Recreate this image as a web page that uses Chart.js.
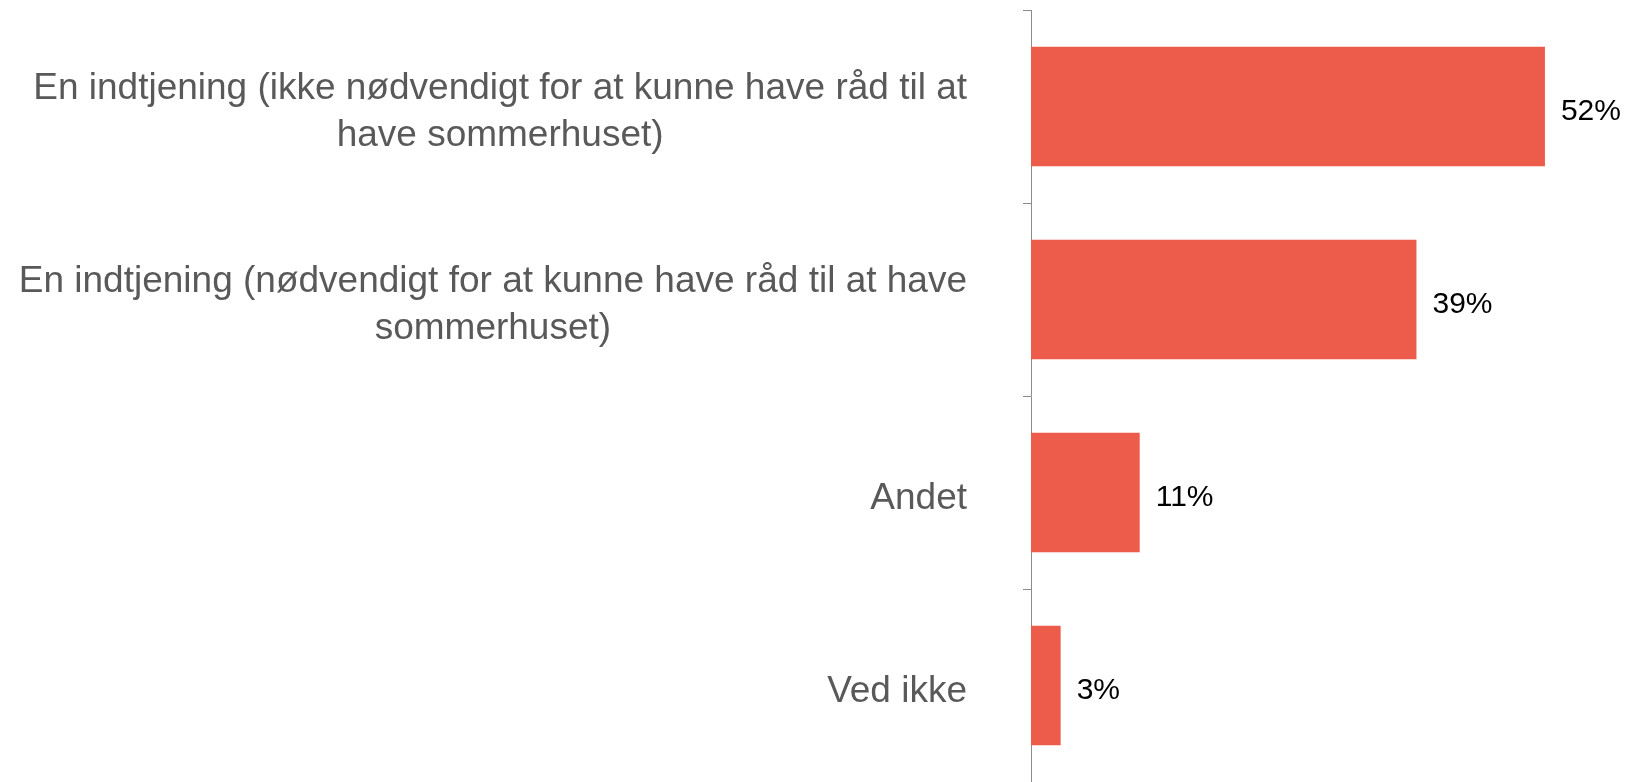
<!DOCTYPE html>
<html>
<head>
<meta charset="utf-8">
<script src="https://cdn.jsdelivr.net/npm/chart.js@4/dist/chart.umd.min.js"></script>
<style>
  html, body { margin: 0; padding: 0; background: #fff; }
  #wrap { width: 1630px; height: 782px; position: relative; }
</style>
</head>
<body>
<div id="wrap"><canvas id="chart"></canvas></div>
<script>
// categories (line breaks as in the original labels)
const categories = [
  ['En indtjening (ikke nødvendigt for at kunne have råd til at', 'have sommerhuset)'],
  ['En indtjening (nødvendigt for at kunne have råd til at have', 'sommerhuset)'],
  ['Andet'],
  ['Ved ikke']
];
const values = [52, 39, 11, 3];
const valueLabels = ['52%', '39%', '11%', '3%'];

const BAR_COLOR = '#ED5C4A';
const LABEL_COLOR = '#595959';
const AXIS_COLOR = '#8C8C8C';

// draws the category text (lines centred within a right-aligned block)
// and the value labels at the end of each bar
const labelPlugin = {
  id: 'labels',
  afterDraw(chart) {
    const ctx = chart.ctx;
    const yScale = chart.scales.y;
    const meta = chart.getDatasetMeta(0);
    const rightEdge = 967;
    const lineH = 47;

    ctx.save();
    ctx.font = '37px "Liberation Sans", Arial, sans-serif';
    ctx.fillStyle = LABEL_COLOR;
    ctx.textBaseline = 'middle';
    ctx.textAlign = 'center';
    categories.forEach((lines, i) => {
      const cy = yScale.getPixelForValue(i) + 6;
      const w = Math.max(...lines.map(l => ctx.measureText(l).width));
      const cx = rightEdge - w / 2;
      const y0 = cy - (lines.length - 1) * lineH / 2;
      lines.forEach((l, j) => ctx.fillText(l, cx, y0 + j * lineH));
    });

    ctx.font = '30px "Liberation Sans", Arial, sans-serif';
    ctx.fillStyle = '#000';
    ctx.textAlign = 'left';
    meta.data.forEach((bar, i) => {
      ctx.fillText(valueLabels[i], bar.x + 16, bar.y + 5);
    });
    ctx.restore();
  }
};

new Chart(document.getElementById('chart'), {
  type: 'bar',
  data: {
    labels: categories,
    datasets: [{
      data: values,
      backgroundColor: BAR_COLOR,
      borderWidth: 0,
      categoryPercentage: 1,
      barPercentage: 0.62
    }]
  },
  options: {
    indexAxis: 'y',
    responsive: true,
    maintainAspectRatio: false,
    animation: false,
    layout: { padding: { left: 1023, right: 6, top: 10, bottom: 0 } },
    plugins: {
      legend: { display: false },
      tooltip: { enabled: false }
    },
    scales: {
      x: { display: false, min: 0, max: 60 },
      y: {
        grid: {
          offset: true,
          drawOnChartArea: false,
          drawTicks: true,
          tickLength: 8,
          color: AXIS_COLOR,
          lineWidth: 1
        },
        border: { display: true, color: AXIS_COLOR, width: 1 },
        ticks: { display: false }
      }
    }
  },
  plugins: [labelPlugin]
});
</script>
</body>
</html>
